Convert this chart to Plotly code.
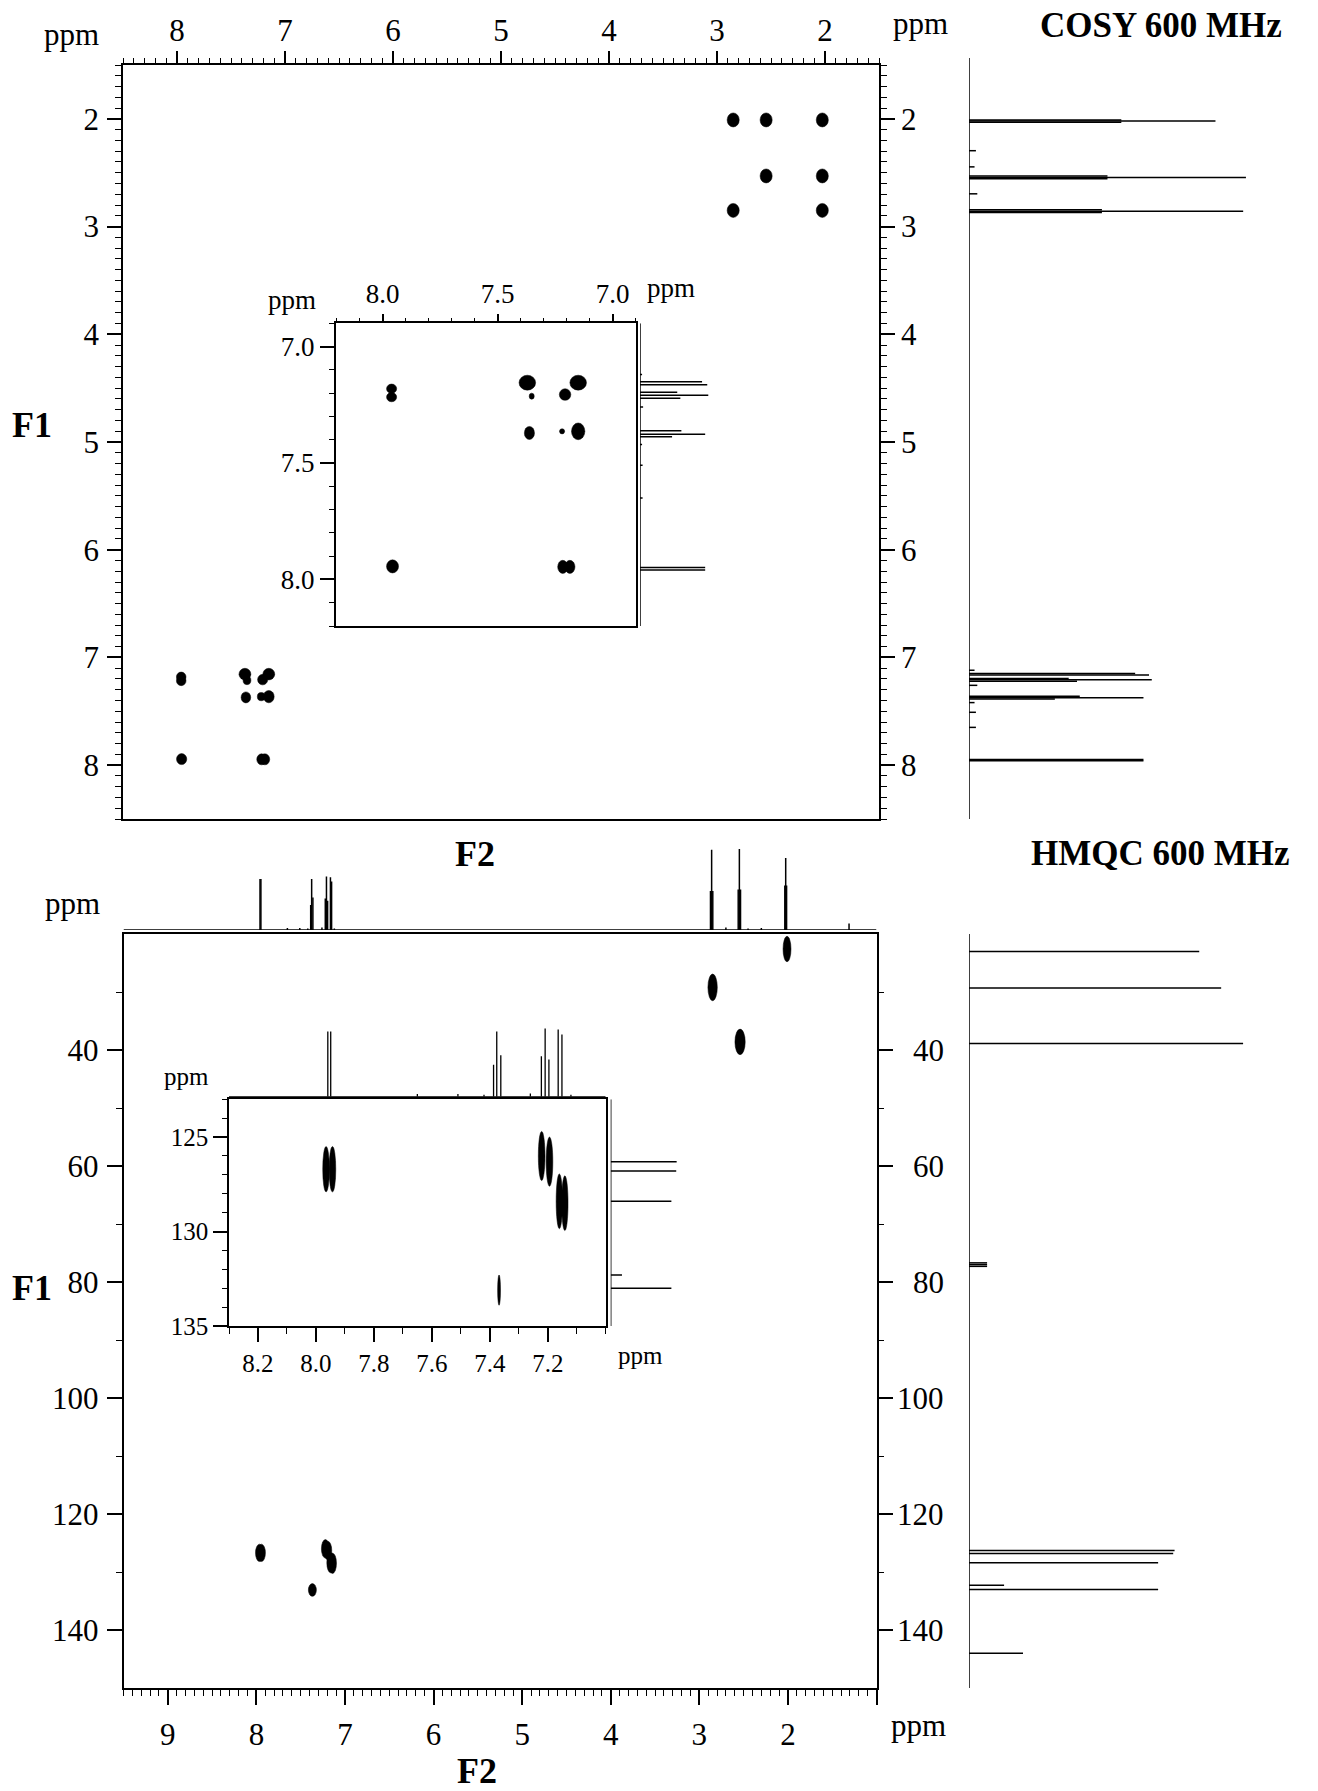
import plotly.graph_objects as go

W, H = 1318, 1791
FONT = "Liberation Serif"

# ---------------- data ----------------
# 1H spectrum lines (ppm, relative intensity)
H1_PPM = [1.31, 2.015, 2.025, 2.035, 2.30, 2.45, 2.535, 2.548, 2.561, 2.70, 2.848, 2.861, 2.874,
          7.12, 7.151, 7.164, 7.196, 7.209, 7.222, 7.26, 7.362, 7.376, 7.387, 7.42, 7.51, 7.65,
          7.949, 7.959]
H1_INT = [8, 55, 89, 55, 2.5, 2, 50, 100, 50, 3, 48, 99, 48,
          2, 60, 65, 36, 66, 39, 3, 40, 63, 31, 2, 2.5, 2.5,
          63, 63]

# 13C spectrum lines (ppm, relative intensity)
C13_PPM = [23.0, 29.3, 38.9, 76.7, 77.0, 77.3, 126.3, 126.8, 128.4, 132.3, 133.0, 144.0]
C13_INT = [84, 92, 100, 6.6, 6.6, 6.6, 75, 74.5, 69, 12.8, 69, 19.7]

# COSY aliphatic cross/diagonal peaks (F2, F1 in ppm)
COSY_ALI_F2 = [2.85, 2.545, 2.025, 2.545, 2.025, 2.85, 2.025]
COSY_ALI_F1 = [2.01, 2.01, 2.01, 2.53, 2.53, 2.85, 2.85]

# COSY aromatic peaks (F2, F1) and half-widths (ppm)
COSY_ARO_F2 = [7.961, 7.961, 7.957, 7.371, 7.352, 7.362, 7.207, 7.220, 7.150, 7.150, 7.217, 7.186]
COSY_ARO_F1 = [7.181, 7.217, 7.944, 7.155, 7.213, 7.371, 7.206, 7.364, 7.155, 7.364, 7.946, 7.946]
COSY_ARO_HW2 = [0.022, 0.022, 0.026, 0.036, 0.011, 0.022, 0.025, 0.011, 0.036, 0.029, 0.022, 0.022]
COSY_ARO_HW1 = [0.020, 0.020, 0.028, 0.032, 0.013, 0.028, 0.025, 0.011, 0.032, 0.036, 0.028, 0.028]

# HMQC correlations (F2 1H ppm, F1 13C ppm) and half-widths
HMQC_F2 = [2.01, 2.85, 2.54, 7.965, 7.943, 7.221, 7.194, 7.160, 7.141, 7.368]
HMQC_F1 = [22.6, 29.2, 38.6, 126.7, 126.7, 126.0, 126.3, 128.4, 128.5, 133.1]
HMQC_HW2 = [0.045, 0.053, 0.058, 0.0115, 0.0115, 0.0115, 0.0115, 0.011, 0.011, 0.005]
HMQC_HW1 = [1.9, 2.0, 1.9, 1.2, 1.2, 1.3, 1.3, 1.45, 1.45, 0.8]

COSY_TICKS = [2, 3, 4, 5, 6, 7, 8]
COSY_INSET_TICKS = [8.0, 7.5, 7.0]
HMQC_X_TICKS = [9, 8, 7, 6, 5, 4, 3, 2, 1]
HMQC_Y_TICKS = [40, 60, 80, 100, 120, 140]
HMQC_Y_MINOR = [30, 50, 70, 90, 110, 130]
HMQC_INSET_X_TICKS = [8.2, 8.0, 7.8, 7.6, 7.4, 7.2]
HMQC_INSET_Y_TICKS = [125, 130, 135]

TICK = 31
TICK_INS1 = 27
TICK_INS2 = 25


def px_x(p):
    return p / W


def px_y(p):
    return 1 - p / H


fig = go.Figure()
shapes = []


def add_sticks(ppm, inten, lo, hi, xa, ya, vertical, width=1.5):
    a = [lo, hi, None]
    b = [0, 0, None]
    for p, v in zip(ppm, inten):
        a += [p, p, None]
        b += [0, v, None]
    x, y = (b, a) if vertical else (a, b)
    fig.add_trace(go.Scatter(x=x, y=y, mode="lines", line=dict(color="black", width=width),
                             xaxis=xa, yaxis=ya, hoverinfo="skip", showlegend=False))


def dummy(xa, ya):
    fig.add_trace(go.Scatter(x=[None], y=[None], mode="markers", xaxis=xa, yaxis=ya,
                             showlegend=False, hoverinfo="skip"))


def ellipse(cx, cy, rx, ry, xr, yr):
    shapes.append(dict(type="circle", xref=xr, yref=yr, x0=cx - rx, x1=cx + rx,
                       y0=cy - ry, y1=cy + ry, fillcolor="black",
                       line=dict(color="black", width=0.5), layer="above"))


def tfont(size):
    return dict(family=FONT, size=size, color="black")


def axis(**kw):
    base = dict(showgrid=False, zeroline=False, showline=True, linecolor="black", linewidth=1.6,
                ticks="outside", tickcolor="black", tickwidth=1.5, tickfont=tfont(TICK),
                fixedrange=True, automargin=False)
    base.update(kw)
    return base


def hidden(**kw):
    base = dict(visible=False, showgrid=False, zeroline=False, fixedrange=True, automargin=False)
    base.update(kw)
    return base


# ---------------- COSY ----------------
COSY_R = [8.5, 1.5]
INS_X = [8.204, 6.9]
INS_Y = [8.2, 6.9]
for f2, f1 in zip(COSY_ALI_F2, COSY_ALI_F1):
    ellipse(f2, f1, 0.056, 0.065, "x", "y")
for f2, f1, h2, h1 in zip(COSY_ARO_F2, COSY_ARO_F1, COSY_ARO_HW2, COSY_ARO_HW1):
    ellipse(f2, f1, 0.028 + 0.75 * h2, 0.03 + 0.75 * h1, "x", "y")
    ellipse(f2, f1, h2, h1, "x3", "y3")
dummy("x", "y")
dummy("x", "y11")
dummy("x3", "y3")
add_sticks(H1_PPM, H1_INT, 1.44, 8.5, "x2", "y2", True)
add_sticks(H1_PPM, H1_INT, 6.9, 8.2, "x4", "y4", True)

# ---------------- HMQC ----------------
for f2, f1, h2, h1 in zip(HMQC_F2, HMQC_F1, HMQC_HW2, HMQC_HW1):
    ellipse(f2, f1, max(h2, 0.045), h1 + 0.3, "x5", "y5")
    if 7.0 < f2 < 8.3:
        ellipse(f2, f1, h2, h1, "x8", "y8")
dummy("x5", "y5")
dummy("x5", "y12")
dummy("x8", "y8")
add_sticks(H1_PPM, H1_INT, 9.5, 1.0, "x6", "y6", False)
add_sticks(H1_PPM, H1_INT, 8.3, 7.0, "x9", "y9", False, width=1.3)
add_sticks(C13_PPM, C13_INT, 20, 150, "x7", "y7", True)
add_sticks(C13_PPM, C13_INT, 123, 135, "x10", "y10", True)

minor01 = dict(ticks="outside", tickmode="linear", tick0=0, dtick=0.1, ticklen=5,
               tickwidth=1, tickcolor="black")

layout = dict(
    template="none",
    width=W, height=H, margin=dict(l=0, r=0, t=0, b=0, pad=0), autosize=False,
    paper_bgcolor="white", plot_bgcolor="white", showlegend=False,
    font=tfont(TICK),
    # COSY main
    xaxis=axis(domain=[px_x(123), px_x(879)], range=COSY_R, side="top", anchor="y",
               mirror=True, tickmode="array", tickvals=COSY_TICKS,
               ticktext=[str(t) for t in COSY_TICKS], ticklen=12, minor=minor01,
               ticklabelstandoff=-2),
    yaxis=axis(domain=[px_y(819), px_y(65)], range=COSY_R, side="left", anchor="x",
               tickmode="array", tickvals=COSY_TICKS, ticktext=[str(t) for t in COSY_TICKS],
               ticklen=14, minor=dict(minor01, ticklen=6), ticklabelstandoff=2),
    yaxis11=axis(overlaying="y", side="right", anchor="x", range=COSY_R, tickmode="array",
                 tickvals=COSY_TICKS, ticktext=[str(t) for t in COSY_TICKS], ticklen=14,
                 minor=dict(minor01, ticklen=6), ticklabelstandoff=0),
    xaxis2=hidden(domain=[px_x(969), px_x(1262)], range=[0, 105.8], anchor="y2"),
    yaxis2=hidden(domain=[px_y(819), px_y(58)], range=[8.5, 1.44], anchor="x2"),
    # COSY inset
    xaxis3=axis(domain=[px_x(335.7), px_x(635.7)], range=INS_X, side="top", anchor="y3",
                mirror=True, tickmode="array", tickvals=COSY_INSET_TICKS,
                ticktext=["%.1f" % t for t in COSY_INSET_TICKS], ticklen=8,
                minor=dict(minor01, ticklen=4), tickfont=tfont(TICK_INS1), ticklabelstandoff=0),
    yaxis3=axis(domain=[px_y(626), px_y(323.3)], range=INS_Y, side="left", anchor="x3",
                mirror=True, tickmode="array", tickvals=COSY_INSET_TICKS,
                ticktext=["%.1f" % t for t in COSY_INSET_TICKS], ticklen=14,
                minor=dict(minor01, ticklen=5), tickfont=tfont(TICK_INS1), ticklabelstandoff=0),
    xaxis4=hidden(domain=[px_x(640), px_x(712)], range=[0, 69.6], anchor="y4"),
    yaxis4=hidden(domain=[px_y(626), px_y(323.3)], range=INS_Y, anchor="x4"),
    # HMQC main
    xaxis5=axis(domain=[px_x(123.5), px_x(876.5)], range=[9.5, 1.0], side="bottom", anchor="y5",
                mirror=True, tickmode="array", tickvals=HMQC_X_TICKS,
                ticktext=[str(t) if t > 1 else "" for t in HMQC_X_TICKS], ticklen=15,
                minor=dict(minor01, ticklen=6), ticklabelstandoff=3),
    yaxis5=axis(domain=[px_y(1688), px_y(934)], range=[150, 20], side="left", anchor="x5",
                tickmode="array", tickvals=HMQC_Y_TICKS, ticktext=[str(t) for t in HMQC_Y_TICKS],
                ticklen=15, minor=dict(ticks="outside", tickmode="array", tickvals=HMQC_Y_MINOR,
                                       ticklen=6, tickwidth=1.2, tickcolor="black"),
                ticklabelstandoff=2),
    yaxis12=axis(overlaying="y5", side="right", anchor="x5", range=[150, 20], tickmode="array",
                 tickvals=HMQC_Y_TICKS, showticklabels=False, ticklen=15,
                 minor=dict(ticks="outside", tickmode="array", tickvals=HMQC_Y_MINOR,
                            ticklen=6, tickwidth=1.2, tickcolor="black")),
    xaxis6=hidden(domain=[px_x(123.5), px_x(876.5)], range=[9.5, 1.0], anchor="y6"),
    yaxis6=hidden(domain=[px_y(930), px_y(845)], range=[0, 104.9], anchor="x6"),
    xaxis7=hidden(domain=[px_x(969), px_x(1262)], range=[0, 106.9], anchor="y7"),
    yaxis7=hidden(domain=[px_y(1688), px_y(934)], range=[150, 20], anchor="x7"),
    # HMQC inset
    xaxis8=axis(domain=[px_x(229), px_x(605.7)], range=[8.3, 7.0], side="bottom", anchor="y8",
                mirror=True, tickmode="array", tickvals=HMQC_INSET_X_TICKS,
                ticktext=["%.1f" % t for t in HMQC_INSET_X_TICKS], ticklen=14,
                minor=dict(minor01, ticklen=6), tickfont=tfont(TICK_INS2), ticklabelstandoff=0),
    yaxis8=axis(domain=[px_y(1326), px_y(1099.3)], range=[135, 123], side="left", anchor="x8",
                mirror=True, tickmode="array", tickvals=HMQC_INSET_Y_TICKS,
                ticktext=[str(t) for t in HMQC_INSET_Y_TICKS], ticklen=14,
                minor=dict(ticks="outside", tickmode="linear", tick0=0, dtick=1, ticklen=5,
                           tickwidth=1, tickcolor="black"),
                tickfont=tfont(TICK_INS2), ticklabelstandoff=0),
    xaxis9=hidden(domain=[px_x(229), px_x(605.7)], range=[8.3, 7.0], anchor="y9"),
    yaxis9=hidden(domain=[px_y(1096.7), px_y(1025)], range=[0, 69.3], anchor="x9"),
    xaxis10=hidden(domain=[px_x(610.7), px_x(680)], range=[0, 78.8], anchor="y10"),
    yaxis10=hidden(domain=[px_y(1326), px_y(1099.3)], range=[135, 123], anchor="x10"),
    shapes=shapes,
)

ann = []


def label(text, x, y, size, bold=False, xanchor="center"):
    ann.append(dict(text="<b>%s</b>" % text if bold else text, x=px_x(x), y=px_y(y),
                    xref="paper", yref="paper", showarrow=False, xanchor=xanchor,
                    yanchor="middle", font=tfont(size)))


label("COSY 600 MHz", 1161, 25.5, 35, bold=True)
label("ppm", 71, 34.3, TICK)
label("ppm", 920, 23.3, TICK)
label("F1", 32, 425, 36, bold=True)
label("F2", 475, 854, 36, bold=True)
label("ppm", 292, 300, TICK_INS1)
label("ppm", 671, 288, TICK_INS1)
label("HMQC 600 MHz", 1160, 854, 35, bold=True)
label("ppm", 72, 903.3, TICK)
label("F1", 32, 1288, 36, bold=True)
label("ppm", 186, 1076.6, TICK_INS2)
label("ppm", 640, 1355.6, TICK_INS2)
label("ppm", 918, 1725.3, TICK)
label("F2", 477, 1771, 36, bold=True)

for t in HMQC_Y_TICKS:
    ann.append(dict(text=str(t), x=px_x(946), y=t, xref="paper", yref="y5", showarrow=False,
                    xanchor="right", yanchor="middle", font=tfont(TICK)))

layout["annotations"] = ann
fig.update_layout(**layout)

POST = (
    "var de=document.documentElement, b=document.body;"
    "de.style.margin='0'; b.style.margin='0'; b.style.padding='0';"
    "de.style.overflow='hidden'; b.style.overflow='hidden';"
)
fig.write_html("out.html", config={"displayModeBar": False}, post_script=POST)
